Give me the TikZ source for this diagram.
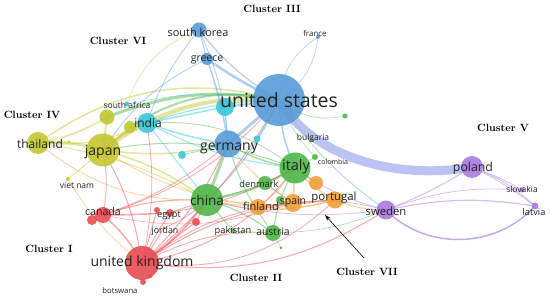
\documentclass[tikz,border=0pt]{standalone}
\usepackage{fontspec}
\newfontfamily\labfont{Open Sans}
\usetikzlibrary{backgrounds,arrows.meta}
\definecolor{bl}{RGB}{88,155,215}
\definecolor{gr}{RGB}{80,182,72}
\definecolor{rd}{RGB}{232,76,82}
\definecolor{yl}{RGB}{196,198,50}
\definecolor{cy}{RGB}{58,198,216}
\definecolor{og}{RGB}{242,158,58}
\definecolor{pu}{RGB}{170,122,222}
\definecolor{band}{RGB}{176,184,240}
\definecolor{txt}{RGB}{35,35,35}
\tikzset{
  bub/.style={circle, inner sep=0pt, minimum size=#1, fill opacity=0.9, draw=none},
  lab/.style={font=\labfont\fontsize{#1}{#1}\selectfont, text=txt, inner sep=0pt},
  clu/.style={font=\bfseries\fontsize{10.5}{12}\selectfont, text=black, inner sep=0pt},
  ed/.style={line width=#1, opacity=0.48, line cap=round}
}
\begin{document}
\begin{tikzpicture}[x=1pt,y=-1pt]
\useasboundingbox (0,0) rectangle (550,299);
% bubbles
\node[bub=52, fill=bl] (us) at (279,100) {};
\node[bub=15, fill=bl] (skorea) at (199,30) {};
\node[bub=12, fill=bl] (greece) at (207,59) {};
\node[bub=4, fill=bl] (france) at (318,37) {};
\node[bub=27, fill=bl] (germany) at (228,144) {};
\node[bub=18, fill=cy] (cyA) at (225,107) {};
\node[bub=7, fill=cy] (cyB) at (257,139) {};
\node[bub=8, fill=cy] (cyC) at (182,155) {};
\node[bub=20, fill=cy] (india) at (147,123) {};
\node[bub=5, fill=cy] (safrica) at (127,104) {};
\node[bub=15, fill=yl] (yA) at (107,117) {};
\node[bub=12, fill=yl] (yB) at (130,127) {};
\node[bub=33, fill=yl] (japan) at (103,150) {};
\node[bub=22, fill=yl] (thailand) at (38,143) {};
\node[bub=3, fill=yl] (yC) at (69,142) {};
\node[bub=4, fill=yl] (vietnam) at (68,179) {};
\node[bub=32, fill=gr] (china) at (207,200) {};
\node[bub=31, fill=gr] (italy) at (295,168) {};
\node[bub=14, fill=gr] (denmark) at (265,183) {};
\node[bub=8, fill=gr] (gD) at (280,200) {};
\node[bub=16, fill=gr] (austria) at (273,233) {};
\node[bub=5, fill=gr] (pakistan) at (233,231) {};
\node[bub=3, fill=gr] (gE) at (281,248) {};
\node[bub=6, fill=gr] (colombia) at (315,157) {};
\node[bub=4, fill=gr] (bulgaria) at (312,140) {};
\node[bub=5, fill=gr] (gF) at (345,116) {};
\node[bub=16, fill=og] (finland) at (258,207) {};
\node[bub=18, fill=og] (spain) at (293,203) {};
\node[bub=17, fill=og] (portugal) at (335,200) {};
\node[bub=14, fill=og] (oA) at (316,183) {};
\node[bub=3, fill=og] (oB) at (332,162) {};
\node[bub=34, fill=rd] (uk) at (142,263) {};
\node[bub=16, fill=rd] (canada) at (103,215) {};
\node[bub=10, fill=rd] (rA) at (92,220) {};
\node[bub=8, fill=rd] (egypt) at (170,213) {};
\node[bub=6, fill=rd] (rB) at (157,210) {};
\node[bub=8, fill=rd] (rC) at (196,222) {};
\node[bub=3, fill=rd] (jordan) at (164,228) {};
\node[bub=6, fill=rd] (botswana) at (143,282) {};
\node[bub=4, fill=rd] (rD) at (150,276) {};
\node[bub=19, fill=pu] (sweden) at (386,210) {};
\node[bub=22, fill=pu] (poland) at (472,167) {};
\node[bub=5, fill=pu] (slovakia) at (522,190) {};
\node[bub=7, fill=pu] (latvia) at (535,206) {};
% connectors
\begin{scope}[on background layer]
\foreach \a/\b/\c/\w/\bn in {
us/greece/bl/2.5/5, us/skorea/bl/1.2/10, greece/skorea/bl/1/0,
us/france/bl/0.6/-25, us/france/bl/0.6/25, us/germany/bl/3/0,
us/italy/bl/1.5/-10, us/china/bl/1.2/10, us/cyA/cy/2/0, us/india/cy/1.2/-8,
us/japan/yl/4/-20, us/thailand/yl/1.5/-25, us/yA/gr/3/-15, us/yB/gr/2/-22,
us/uk/rd/1/10, us/canada/rd/0.8/15, us/bulgaria/gr/0.8/-10,
us/gF/gr/0.6/-25, us/colombia/gr/0.6/-10, us/safrica/cy/0.6/-10, us/cyB/cy/1/0,
us/sweden/bl/0.8/-10, greece/japan/bl/0.8/-15, skorea/india/bl/0.8/-10,
germany/china/gr/3/0, germany/italy/gr/1.5/-10, germany/japan/yl/1.5/10,
germany/india/cy/1.5/5, germany/uk/rd/1/10, germany/greece/bl/1.5/-5,
germany/skorea/bl/0.8/-10, germany/austria/gr/1/-10, germany/spain/og/0.8/-10,
germany/cyA/cy/1/0, germany/cyC/cy/1/0, germany/canada/rd/0.8/10,
china/italy/gr/2.5/-10, china/uk/rd/2/10, china/japan/yl/1.5/-10,
china/canada/rd/1/-10, china/egypt/rd/1/0, china/rC/rd/1/0, china/jordan/rd/0.8/10,
china/pakistan/gr/1/0, china/austria/gr/1.2/10, china/denmark/gr/1/-5,
china/finland/og/1/5, china/spain/og/1/-10, china/portugal/og/1/-15,
china/sweden/pu/0.8/-10, china/india/cy/1/0, china/thailand/og/0.8/20,
italy/spain/og/1.5/0, italy/portugal/og/1.5/-10, italy/austria/gr/1.2/-10,
italy/uk/rd/1/20, italy/sweden/pu/0.8/-10, italy/denmark/gr/1/0,
italy/finland/og/1/10, italy/colombia/gr/0.6/0, italy/oA/og/1.5/0,
italy/japan/gr/1/-15, italy/india/gr/0.8/-20, italy/canada/rd/0.8/15,
portugal/spain/og/1.5/0, portugal/finland/og/1/10, portugal/sweden/og/1/-10,
portugal/uk/rd/1/-15, spain/sweden/pu/0.8/10, portugal/japan/og/0.8/20,
uk/canada/rd/1.5/-10, uk/egypt/rd/1/5, uk/jordan/rd/1/0, uk/botswana/rd/0.8/0,
uk/japan/rd/1/-10, uk/india/rd/0.8/-10, uk/sweden/rd/1/-20, uk/austria/rd/0.8/15,
uk/spain/rd/0.8/15, uk/rB/rd/1/0, uk/rC/rd/1/0, uk/portugal/rd/0.8/-25,
canada/japan/rd/0.8/-10, canada/egypt/rd/0.8/0, canada/spain/rd/0.6/-15,
japan/thailand/yl/3/-10, japan/india/yl/2/10, japan/vietnam/yl/1/0,
japan/yA/yl/2/0, japan/yB/yl/2/0, thailand/yA/yl/1.5/-10, thailand/india/yl/1/-15,
thailand/china/yl/1/10, thailand/yC/yl/0.6/0, vietnam/uk/og/0.6/-10,
safrica/skorea/yl/0.6/25, india/italy/cy/1/-10, india/cyA/cy/1.5/0,
sweden/poland/pu/1/-5, sweden/latvia/pu/1.2/10,
sweden/slovakia/pu/0.8/12, poland/latvia/pu/1/10, poland/latvia/pu/0.8/5,
poland/slovakia/pu/0.8/5,
austria/sweden/gr/0.6/-10, finland/spain/og/1/0, denmark/spain/gr/0.8/0,
pakistan/austria/gr/0.6/0, austria/gE/gr/0.6/0}
  \draw[ed=\w, draw=\c] (\a.center) to[bend left=\bn] (\b.center);
\draw[line width=1.5pt, draw=pu, opacity=0.65] (sweden.center) .. controls (425,250) and (495,250) .. (latvia.center);
\draw[line width=9, draw=band, opacity=0.85] (us.center) .. controls +(36,60) and +(-72,13) .. (poland.center);
\end{scope}
% labels
\node[lab=19.5] (usl) at (279,100) {united states};
\node[lab=11] (skl) at (198,32) {south korea};
\node[lab=10.5] (grl) at (207,60) {greece};
\node[lab=8] (frl) at (315,33) {france};
\node[lab=14] (gel) at (229,148) {germany};
\node[lab=12] (inl) at (148,123) {india};
\node[lab=8.5] (safl) at (127,105) {south africa};
\node[lab=12] (thl) at (40,144) {thailand};
\node[lab=14] (jpl) at (103,152) {japan};
\node[lab=8.5] (vnl) at (77,185) {viet nam};
\node[lab=13.5] (chl) at (207,200) {china};
\node[lab=14.5] (itl) at (296,167) {italy};
\node[lab=9.3] (dkl) at (259,184) {denmark};
\node[lab=11] (fil) at (261,206) {finland};
\node[lab=10.5] (spl) at (293,202) {spain};
\node[lab=11.4] (ptl) at (334,198) {portugal};
\node[lab=7] (col) at (333,162) {colombia};
\node[lab=8.5] (bgl) at (313,138) {bulgaria};
\node[lab=9.3] (pkl) at (233,231) {pakistan};
\node[lab=10.4] (aul) at (273,232) {austria};
\node[lab=9.2] (egl) at (169,216) {egypt};
\node[lab=8.8] (jol) at (165,231) {jordan};
\node[lab=10.6] (cal) at (103,212) {canada};
\node[lab=14] (ukl) at (142,263) {united kingdom};
\node[lab=7.7] (bwl) at (120,291) {botswana};
\node[lab=11.3] (swl) at (386,211) {sweden};
\node[lab=12.3] (pll) at (473,168) {poland};
\node[lab=8.5] (svl) at (522,189) {slovakia};
\node[lab=9.2] (lvl) at (534,212) {latvia};
% cluster labels
\node[clu] (c3) at (272,9) {Cluster III};
\node[clu] (c6) at (118,41) {Cluster VI};
\node[clu] (c4) at (32,115) {Cluster IV};
\node[clu] (c5) at (503,128) {Cluster V};
\node[clu] (c1) at (49,249) {Cluster I};
\node[clu] (c2) at (256,278) {Cluster II};
\node[clu] (c7) at (367,272) {Cluster VII};
\coordinate (a7) at (364,258);
\coordinate (t7) at (325,215);
\draw[line width=0.6, -{Stealth[length=6pt,width=4pt]}] (a7) -- (t7);
\end{tikzpicture}
\end{document}
